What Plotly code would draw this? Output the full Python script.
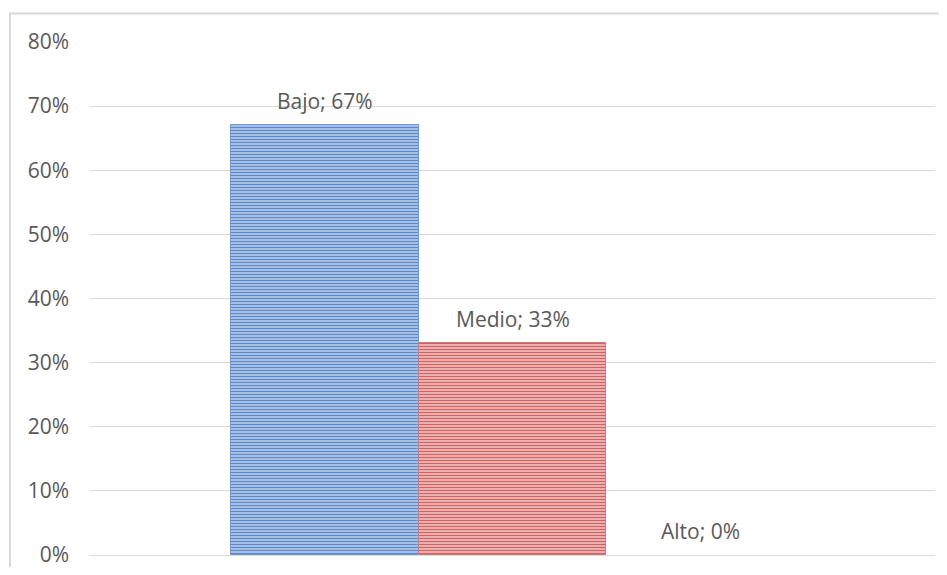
import plotly.graph_objects as go

categories = ["Bajo", "Medio", "Alto"]
values = [0.67, 0.33, 0.0]
labels = ["Bajo; 67%", "Medio; 33%", "Alto; 0%"]
fg_colors = ["#5b86c8", "#cf6163", "#8fb14f"]
bg_colors = ["#b7cdec", "#f0bfbf", "#cfe0b0"]
line_colors = ["#7399d4", "#d3797c", "#9bbb59"]
line_widths = [1, 1, 0]
y_ticks = [0, 0.1, 0.2, 0.3, 0.4, 0.5, 0.6, 0.7, 0.8]

# page has an 8px body margin; figure coords = page coords - 8
W, H = 931, 559
L, R, T, B = 82, 4, 34, 12
pw, ph = W - L - R, H - T - B

fig = go.Figure()
for c, v, fg, bg, lc, lw in zip(categories, values, fg_colors, bg_colors,
                                line_colors, line_widths):
    fig.add_trace(go.Bar(
        x=[c], y=[v], name=c,
        marker=dict(
            color=bg,
            line=dict(color=lc, width=lw),
            pattern=dict(shape="-", fgcolor=fg, bgcolor=bg, fgopacity=1,
                         size=3, solidity=0.45, fillmode="replace"),
        ),
        hoverinfo="skip",
    ))

for c, v, t in zip(categories, values, labels):
    fig.add_annotation(x=c, y=v, text=t, showarrow=False, yshift=24,
                       yanchor="middle", xanchor="center",
                       font=dict(family="Open Sans", size=21, color="#595959"))

# outer chart border (light gray)
fig.add_shape(type="rect", xref="paper", yref="paper",
              x0=(2 - L) / pw, x1=(W + 30 - L) / pw,
              y0=(H - B - (H + 30)) / ph, y1=(H - B - 5.5) / ph,
              line=dict(color="#d9d9d9", width=2), fillcolor="rgba(0,0,0,0)",
              layer="below")

fig.update_layout(
    width=W, height=H,
    margin=dict(l=L, r=R, t=T, b=B),
    paper_bgcolor="white", plot_bgcolor="white",
    barmode="overlay", bargap=0, showlegend=False,
    font=dict(family="Open Sans", color="#595959"),
    xaxis=dict(range=[-1.253, 3.253], showticklabels=False, showgrid=False,
               zeroline=False, showline=False, fixedrange=True,
               categoryorder="array", categoryarray=categories),
    yaxis=dict(range=[0, 0.8], tickvals=y_ticks, tickformat=".0%",
               showgrid=True, gridcolor="#d9d9d9", gridwidth=1,
               zeroline=True, zerolinecolor="#d9d9d9", zerolinewidth=1,
               showline=False, ticks="", ticklabelstandoff=20,
               automargin=False, ticklabeloverflow="allow",
               tickfont=dict(family="Open Sans", size=21, color="#595959")),
)

fig.write_html("out.html")
